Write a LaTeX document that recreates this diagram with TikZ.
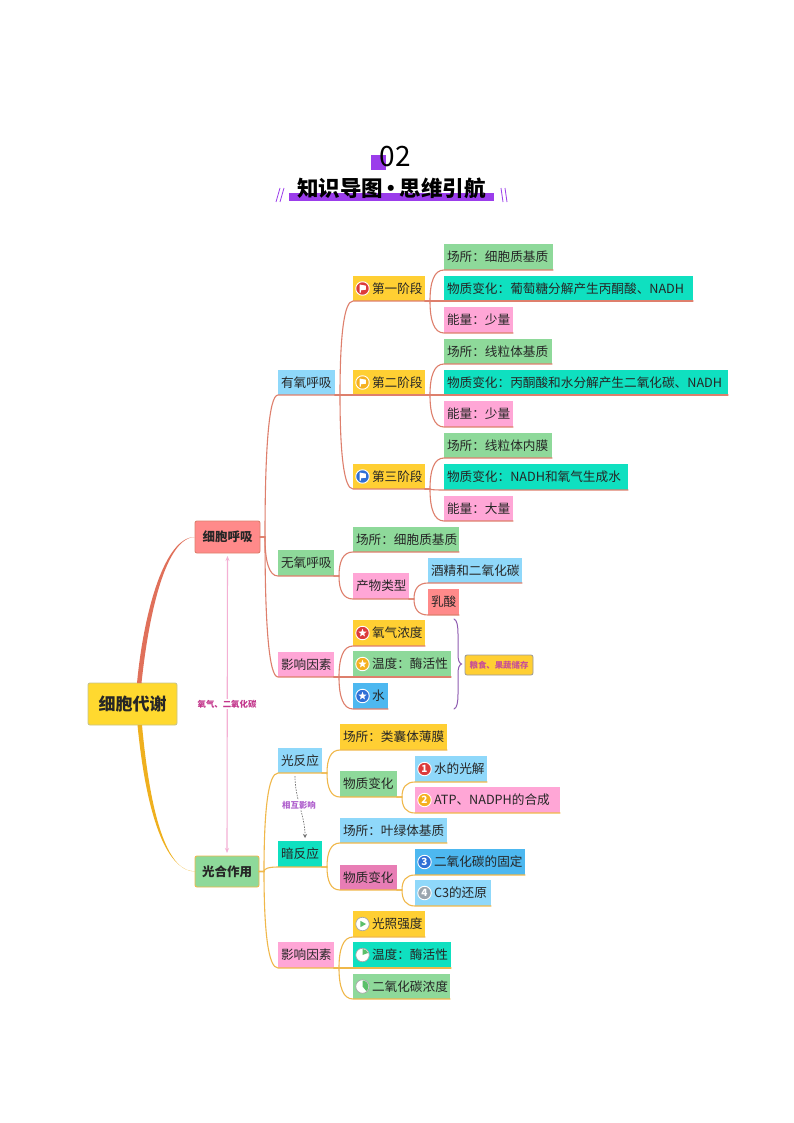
\documentclass[tikz,border=0pt]{standalone}
\usepackage{fontspec}
\setmainfont{Noto Sans CJK SC}
\usetikzlibrary{calc,arrows.meta,shapes.geometric}
\definecolor{cYel}{HTML}{FFCF33}
\definecolor{cGrn}{HTML}{8ED99A}
\definecolor{cTeal}{HTML}{0FE0C0}
\definecolor{cPink}{HTML}{FFA6D6}
\definecolor{cSky}{HTML}{8FD8FA}
\definecolor{cBlue}{HTML}{4DB8F0}
\definecolor{cRed}{HTML}{FF8A8A}
\definecolor{cRose}{HTML}{E87DB5}
\definecolor{cPur}{HTML}{9B3DEB}
\definecolor{cRoot}{HTML}{FFD92F}
\definecolor{lnR}{HTML}{DE7F6C}
\definecolor{lnO}{HTML}{F0B84A}
\definecolor{brR}{HTML}{E0705A}
\definecolor{brO}{HTML}{EFB01E}
\definecolor{icR}{HTML}{DC3B3B}
\definecolor{icO}{HTML}{F5B01F}
\definecolor{icB}{HTML}{2F6FD6}
\definecolor{icG}{HTML}{9AA5AE}
\definecolor{icV}{HTML}{5CBF6A}
\definecolor{arrP}{HTML}{F4B0D4}
\definecolor{brc}{HTML}{8E5BB0}
\tikzset{
  box/.style={inner sep=0pt,outer sep=0pt,font=\fontsize{12.65}{14}\selectfont,text=black!85},
  mainbox/.style={box,rounded corners=2pt,draw,line width=.9pt,font=\fontsize{12.5}{14}\selectfont\bfseries},
  note/.style={inner sep=1pt,fill=white,font=\fontsize{8.4}{10}\selectfont\bfseries},
  conn/.style={line width=1.1pt,line cap=round},
  ring/.style={circle,inner sep=0pt,minimum size=13.5pt,draw=white,line width=.9pt},
  taskring/.style={ring,fill=white,draw=black!35,line width=.7pt},
}
% centred box: name, x0, y0, x1, y1, style, text
\newcommand{\bx}[7]{\node[#6,minimum width={(#4-#2)*1pt},minimum height={(#5-#3)*1pt}] (#1) at ({(#2+#4)/2},{(#3+#5)/2}) {#7};}
% left-set box: text starts 3 from the left edge
\newcommand{\bxt}[7]{\pgfmathsetlengthmacro\boxw{(#4-#2)*1pt}\node[#6,minimum height={(#5-#3)*1pt}] (#1) at ({(#2+#4)/2},{(#3+#5)/2}) {\makebox[\boxw][l]{\hspace*{3pt}#7}};}
% left-set box with room for an icon
\newcommand{\bxi}[7]{\pgfmathsetlengthmacro\boxw{(#4-#2)*1pt}\node[#6,minimum height={(#5-#3)*1pt}] (#1) at ({(#2+#4)/2},{(#3+#5)/2}) {\makebox[\boxw][l]{\hspace*{19pt}#7}};}
% colour, start point, child : connector that runs on as the child's underline
\newcommand{\lnk}[3]{\draw[conn,#1] #2 -- ++(5,0) coordinate (jn) .. controls ($(jn)!.62!(jn |- #3.south west)$) and ($(jn |- #3.south west)!.3!(#3.south west)$) .. (#3.south west) -- (#3.south east);}
\newcommand{\icn}[2]{\node[ring,fill=#2] (#1i) at ($(#1.west)+(9.5,0)$) {};}
\newcommand{\flagic}[2]{\icn{#1}{#2}\fill[white] ($(#1i)+(-3,-4)$) -- ++(6.4,1.2) -- ++(0,4) -- ++(-5,.6) -- ++(0,2.4) -- ++(-1.4,0) -- cycle;}
\newcommand{\staric}[2]{\icn{#1}{#2}\node[star,star points=5,star point ratio=2.4,fill=white,inner sep=0pt,minimum size=8.5pt] (#1s) at (#1i) {};}
\newcommand{\numic}[3]{\icn{#1}{#2}\node[inner sep=0pt,text=white,font=\fontsize{10}{10}\selectfont\bfseries] (#1n) at (#1i) {#3};}
\begin{document}
\begin{tikzpicture}[x=1pt,y=-1pt]
\useasboundingbox (0,0) rectangle (794,1123);
\fill[white] (0,0) rectangle (794,1123);
% title
\fill[cPur] (371,155) rectangle (386,170);
\node[inner sep=0pt,font=\fontsize{28}{30}\selectfont,text=black] (num) at (395,157) {02};
\fill[cPur] (289,193) rectangle (494,201);
\node[inner sep=0pt,font=\fontsize{21.5}{24}\selectfont\bfseries,text=black] (ttl) at (391.5,188) {知识导图\hspace{-2.3pt}•\hspace{-2.3pt}思维引航};
\draw[cPur,line width=.8pt] (276,202) -- (280,188) (280,202) -- (284,188);
\draw[cPur,line width=.8pt] (503,202) -- (501,188) (507,202) -- (505,188);

% main nodes
\bx{root}{88}{683}{177}{725}{mainbox,fill=cRoot,draw=black!45!yellow!55,font=\fontsize{17}{20}\selectfont\bfseries}{细胞代谢}
\bx{resp}{195}{521}{260}{553}{mainbox,fill=cRed,draw=lnR}{细胞呼吸}
\bx{phot}{195}{856}{259}{887}{mainbox,fill=cGrn,draw=lnO}{光合作用}

% respiration
\bxt{aer}{278}{370}{335}{395}{box,fill=cSky}{有氧呼吸}
\bxt{ana}{278}{550}{334}{576}{box,fill=cGrn}{无氧呼吸}
\bxt{inf}{278}{652}{334}{677}{box,fill=cPink}{影响因素}
\bxi{st1}{353}{276}{425}{301}{box,fill=cYel}{第一阶段}
\bxi{st2}{353}{370}{425}{395}{box,fill=cYel}{第二阶段}
\bxi{st3}{353}{464}{425}{489}{box,fill=cYel}{第三阶段}
\bxt{a1}{444}{244}{553}{270}{box,fill=cGrn}{场所：细胞质基质}
\bxt{a2}{444}{276}{693}{301}{box,fill=cTeal}{物质变化：葡萄糖分解产生丙酮酸、NADH}
\bxt{a3}{444}{307}{513}{333}{box,fill=cPink}{能量：少量}
\bxt{b1}{444}{339}{552}{364}{box,fill=cGrn}{场所：线粒体基质}
\bxt{b2}{444}{370}{728}{395}{box,fill=cTeal}{物质变化：丙酮酸和水分解产生二氧化碳、NADH}
\bxt{b3}{444}{401}{513}{427}{box,fill=cPink}{能量：少量}
\bxt{c1}{444}{433}{552}{458}{box,fill=cGrn}{场所：线粒体内膜}
\bxt{c2}{444}{464}{628}{490}{box,fill=cTeal}{物质变化：NADH和氧气生成水}
\bxt{c3}{444}{496}{513}{521}{box,fill=cPink}{能量：大量}
\bxt{d1}{353}{527}{459}{552}{box,fill=cGrn}{场所：细胞质基质}
\bxt{d2}{353}{573}{409}{599}{box,fill=cPink}{产物类型}
\bxt{d3}{428}{558}{522}{583}{box,fill=cSky}{酒精和二氧化碳}
\bxt{d4}{428}{589}{459}{615}{box,fill=cRed}{乳酸}
\bxi{e1}{353}{620}{425}{646}{box,fill=cYel}{氧气浓度}
\bxi{e2}{353}{651}{451}{677}{box,fill=cGrn}{温度：酶活性}
\bxi{e3}{353}{683}{388}{709}{box,fill=cBlue}{水}
\node[draw=black!40,line width=.8pt,rounded corners=2pt,fill=cYel,inner sep=0pt,minimum width=68pt,minimum height=20pt,font=\fontsize{8.4}{10}\selectfont\bfseries,text={rgb,255:red,200;green,80;blue,150}] (store) at (499,665) {粮食、果蔬储存};

% photosynthesis
\bxt{li}{278}{748}{322}{773}{box,fill=cSky}{光反应}
\bxt{da}{278}{841}{322}{867}{box,fill=cTeal}{暗反应}
\bxt{in2}{278}{942}{334}{968}{box,fill=cPink}{影响因素}
\bxt{f1}{340}{724}{447}{750}{box,fill=cYel}{场所：类囊体薄膜}
\bxt{f2}{340}{771}{397}{797}{box,fill=cGrn}{物质变化}
\bxi{f3}{415}{756}{487}{782}{box,fill=cSky}{水的光解}
\bxi{f4}{415}{787}{560}{813}{box,fill=cPink}{ATP、NADPH的合成}
\bxt{g1}{340}{818}{447}{843}{box,fill=cSky}{场所：叶绿体基质}
\bxt{g2}{340}{865}{397}{890}{box,fill=cRose}{物质变化}
\bxi{g3}{415}{849}{525}{875}{box,fill=cBlue}{二氧化碳的固定}
\bxi{g4}{415}{880}{491}{906}{box,fill=cSky}{C3的还原}
\bxi{h1}{353}{911}{425}{937}{box,fill=cYel}{光照强度}
\bxi{h2}{353}{942}{451}{968}{box,fill=cTeal}{温度：酶活性}
\bxi{h3}{353}{974}{450}{999}{box,fill=cGrn}{二氧化碳浓度}

% main tapered branches
\fill[brR] ([xshift=4.5pt]root.north) .. controls (144,610) and (165,536.6) .. (resp.west) .. controls (166,537.6) and (149,612) .. ([xshift=9pt]root.north) -- cycle;
\fill[brO] ([xshift=5pt]root.south) .. controls (146,812) and (165,870.4) .. (phot.west) .. controls (166,871.8) and (150,812) .. ([xshift=9.5pt]root.south) -- cycle;

% connectors
\lnk{lnR}{(resp.east)}{aer}
\lnk{lnR}{(resp.east)}{ana}
\lnk{lnR}{(resp.east)}{inf}
\lnk{lnR}{(aer.south east)}{st1}
\lnk{lnR}{(aer.south east)}{st2}
\lnk{lnR}{(aer.south east)}{st3}
\foreach \pp/\k in {st1/a,st2/b,st3/c}{
 \foreach \n in {1,2,3}{\lnk{lnR}{(\pp.south east)}{\k\n}}
}
\lnk{lnR}{(ana.south east)}{d1}
\lnk{lnR}{(ana.south east)}{d2}
\lnk{lnR}{(d2.south east)}{d3}
\lnk{lnR}{(d2.south east)}{d4}
\lnk{lnR}{(inf.south east)}{e1}
\lnk{lnR}{(inf.south east)}{e2}
\lnk{lnR}{(inf.south east)}{e3}
\lnk{lnO}{(phot.east)}{li}
\lnk{lnO}{(phot.east)}{da}
\lnk{lnO}{(phot.east)}{in2}
\lnk{lnO}{(li.south east)}{f1}
\lnk{lnO}{(li.south east)}{f2}
\lnk{lnO}{(f2.south east)}{f3}
\lnk{lnO}{(f2.south east)}{f4}
\lnk{lnO}{(da.south east)}{g1}
\lnk{lnO}{(da.south east)}{g2}
\lnk{lnO}{(g2.south east)}{g3}
\lnk{lnO}{(g2.south east)}{g4}
\lnk{lnO}{(in2.south east)}{h1}
\lnk{lnO}{(in2.south east)}{h2}
\lnk{lnO}{(in2.south east)}{h3}

% icons
\flagic{st1}{icR}\flagic{st2}{icO}\flagic{st3}{icB}
\staric{e1}{icR}\staric{e2}{icO}\staric{e3}{icB}
\numic{f3}{icR}{1}\numic{f4}{icO}{2}\numic{g3}{icB}{3}\numic{g4}{icG}{4}
\node[taskring] (h1i) at ($(h1.west)+(9.5,0)$) {};
\fill[icV] ($(h1i)+(-2.2,-3.2)$) -- ($(h1i)+(3.6,0)$) -- ($(h1i)+(-2.2,3.2)$) -- cycle;
\node[taskring] (h2i) at ($(h2.west)+(9.5,0)$) {};
\fill[icV] (h2i.center) -- ++(0,-6) arc[start angle=90,end angle=20,radius=6pt] -- cycle;
\node[taskring] (h3i) at ($(h3.west)+(9.5,0)$) {};
\fill[icV] (h3i.center) -- ++(0,-6) arc[start angle=90,end angle=-50,radius=6pt] -- cycle;

% brace
\coordinate (brT) at (454,619);
\coordinate (brB) at (454,709);
\draw[brc,line width=1pt,line cap=round] (brT) .. controls (457,620) and (458,626) .. (458,634) -- (458,654) .. controls (458,660) and (459,663) .. (461.5,664) .. controls (459,665) and (458,668) .. (458,674) -- (458,694) .. controls (458,702) and (457,708) .. (brB);

% relation arrows
\draw[{Stealth[length=5pt,width=4pt]}-{Stealth[length=5pt,width=4pt]},arrP,line width=1.1pt,shorten >=3pt,shorten <=3pt] (resp.south) -- (phot.north);
\node[note,text={rgb,255:red,195;green,55;blue,140}] (lb1) at (227,704) {氧气、二氧化碳};
\draw[-{Stealth[length=4pt,width=4pt]},black!55,line width=.7pt,dash pattern=on 1.5pt off 1.2pt] ([xshift=-5pt,yshift=-3pt]li.south) .. controls (295,800) and (305,815) .. ([xshift=5pt,yshift=3pt]da.north);
\node[note,text={rgb,255:red,175;green,95;blue,205}] (lb2) at (299,805) {相互影响};
\end{tikzpicture}
\end{document}
